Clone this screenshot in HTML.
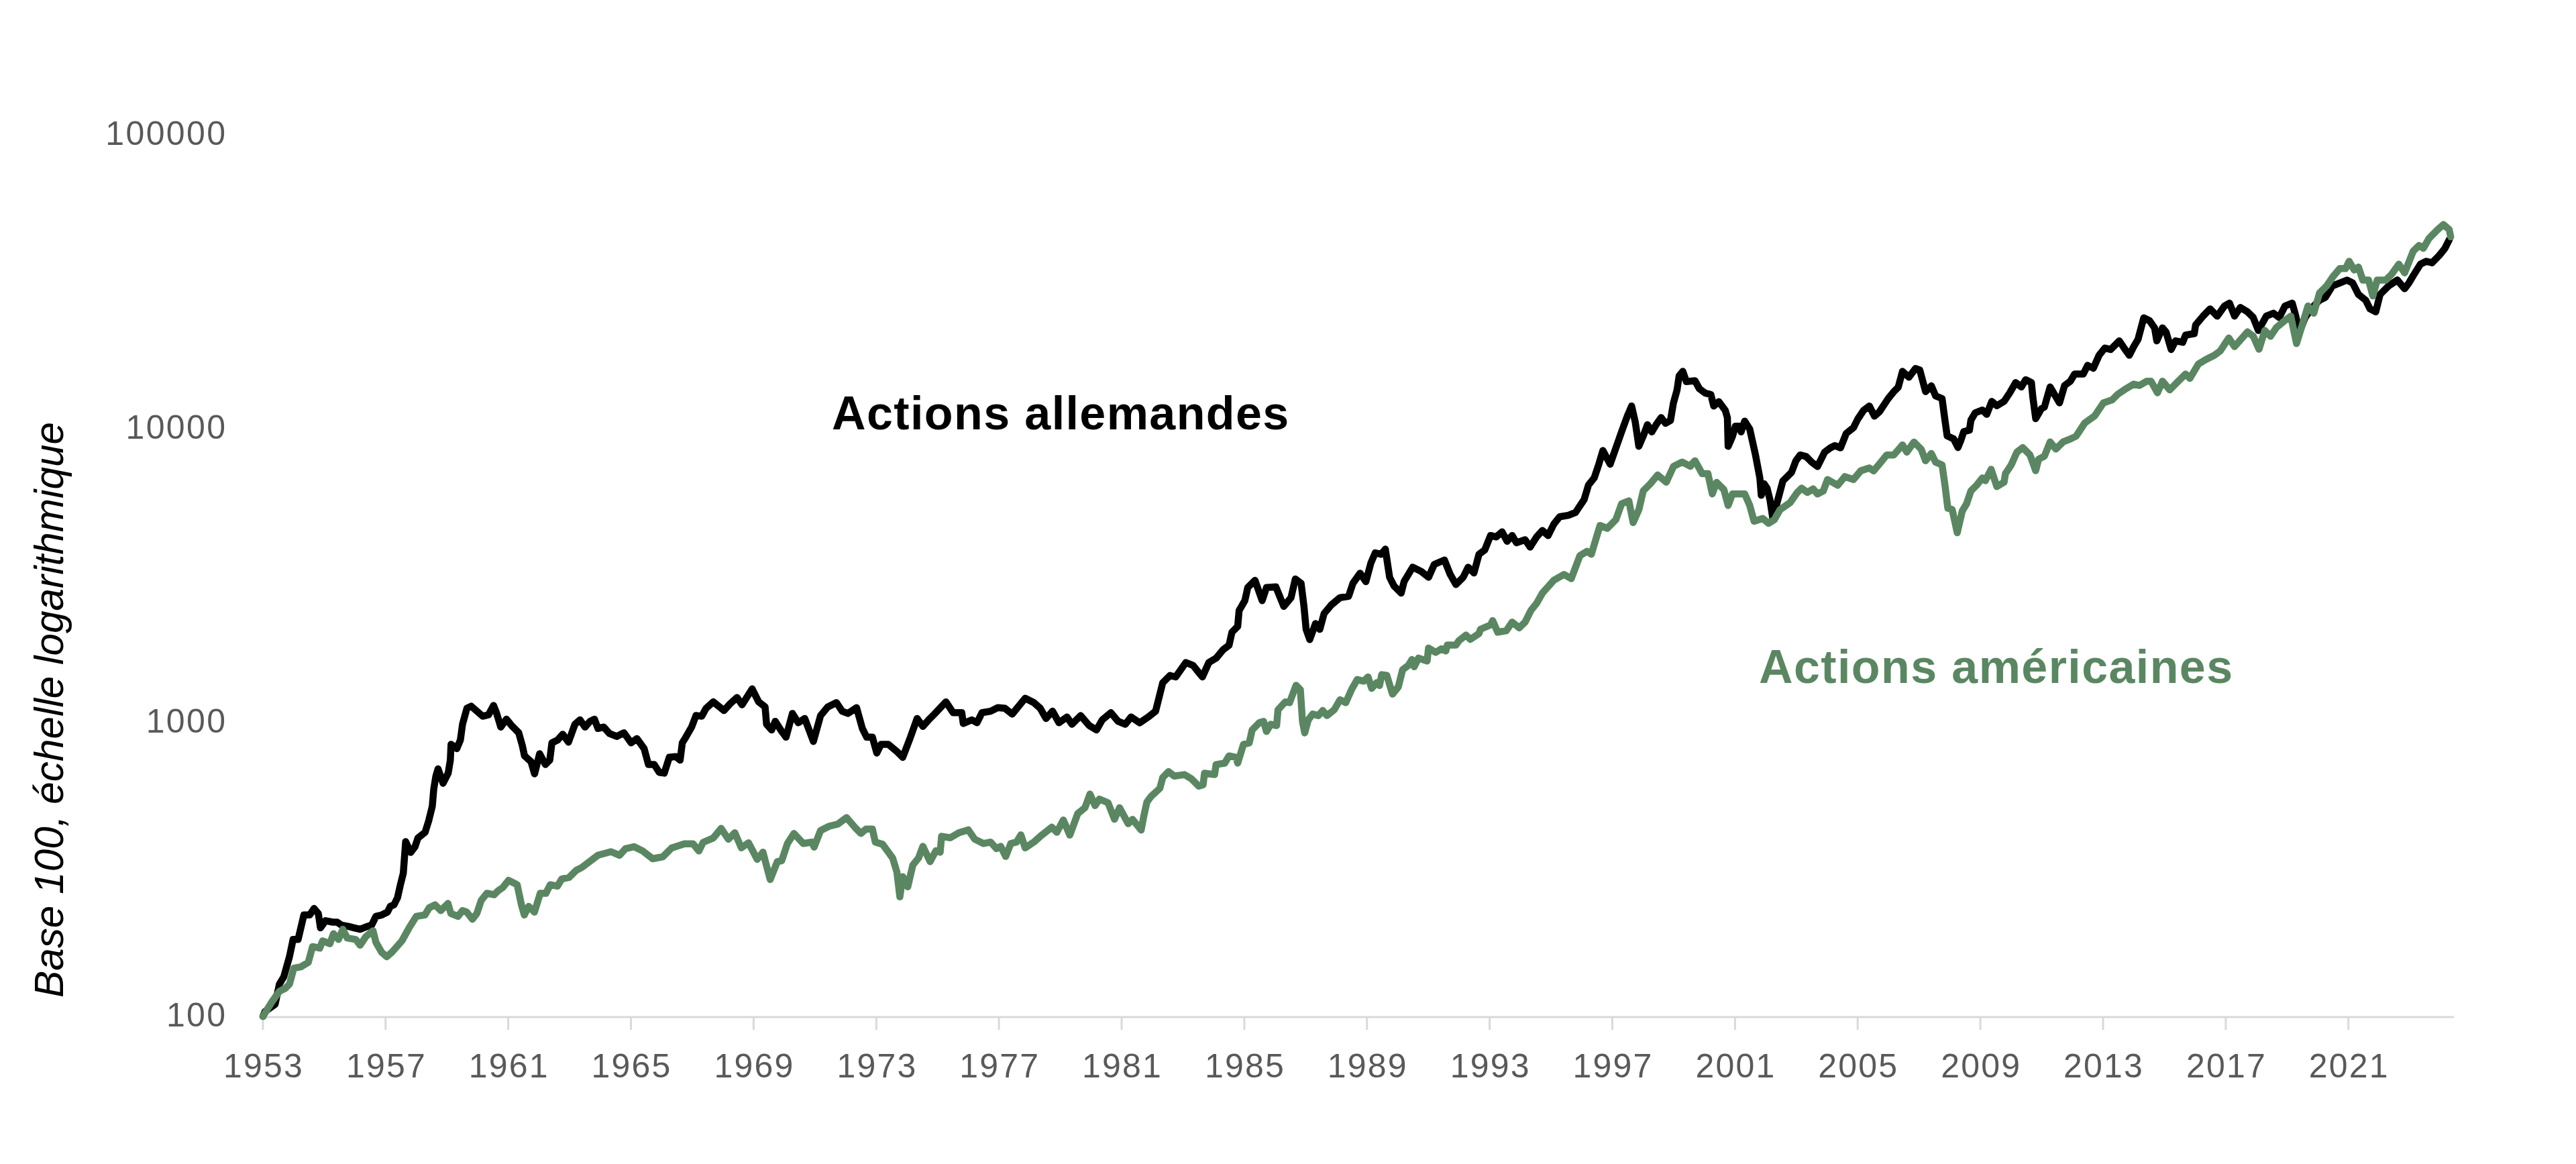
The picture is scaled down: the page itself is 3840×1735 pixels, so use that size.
<!DOCTYPE html>
<html><head><meta charset="utf-8"><style>
html,body{margin:0;padding:0;background:#fff;}
body{width:3840px;height:1735px;position:relative;overflow:hidden;font-family:"Liberation Sans",sans-serif;}
svg{position:absolute;left:0;top:0;}
.yt{position:absolute;right:3501.5px;color:#595959;font-size:50px;line-height:50px;white-space:nowrap;letter-spacing:2.4px;}
.yl{position:absolute;top:1564px;width:240px;text-align:center;color:#595959;font-size:50px;line-height:50px;letter-spacing:2.2px;text-indent:2.2px;}
.lab{position:absolute;font-weight:bold;font-size:70px;line-height:70px;letter-spacing:1.4px;white-space:nowrap;}
.ax{position:absolute;left:0;top:0;width:1000px;text-align:center;transform-origin:0 0;font-style:italic;font-size:60.3px;line-height:61px;white-space:nowrap;color:#000;}
</style></head><body>
<svg width="3840" height="1735" viewBox="0 0 3840 1735">
<g stroke="#d9d9d9" stroke-width="3" fill="none">
<line x1="391" y1="1516" x2="3658" y2="1516" />
<line x1="391.9" y1="1516" x2="391.9" y2="1535" /><line x1="574.8" y1="1516" x2="574.8" y2="1535" /><line x1="757.6" y1="1516" x2="757.6" y2="1535" /><line x1="940.5" y1="1516" x2="940.5" y2="1535" /><line x1="1123.4" y1="1516" x2="1123.4" y2="1535" /><line x1="1306.3" y1="1516" x2="1306.3" y2="1535" /><line x1="1489.1" y1="1516" x2="1489.1" y2="1535" /><line x1="1672.0" y1="1516" x2="1672.0" y2="1535" /><line x1="1854.9" y1="1516" x2="1854.9" y2="1535" /><line x1="2037.7" y1="1516" x2="2037.7" y2="1535" /><line x1="2220.6" y1="1516" x2="2220.6" y2="1535" /><line x1="2403.5" y1="1516" x2="2403.5" y2="1535" /><line x1="2586.4" y1="1516" x2="2586.4" y2="1535" /><line x1="2769.2" y1="1516" x2="2769.2" y2="1535" /><line x1="2952.1" y1="1516" x2="2952.1" y2="1535" /><line x1="3135.0" y1="1516" x2="3135.0" y2="1535" /><line x1="3317.9" y1="1516" x2="3317.9" y2="1535" /><line x1="3500.7" y1="1516" x2="3500.7" y2="1535" />
</g>
<path d="M392.0,1515.0 L395.0,1507.7 L410.1,1496.9 L416.5,1466.9 L423.0,1456.1 L431.5,1426.0 L436.9,1400.3 L444.4,1400.3 L453.0,1363.8 L461.6,1363.8 L468.1,1354.1 L474.5,1361.6 L477.7,1383.1 L485.2,1372.4 L496.0,1374.5 L502.4,1374.5 L508.9,1378.8 L519.6,1380.9 L528.2,1383.1 L536.8,1385.2 L547.5,1380.9 L554.0,1378.8 L560.4,1365.9 L569.0,1363.8 L577.6,1359.5 L581.9,1350.9 L587.3,1348.7 L592.6,1338.0 L596.9,1318.7 L601.2,1301.5 L604.7,1254.4 L612.2,1270.5 L618.7,1262.0 L623.0,1249.1 L633.7,1240.5 L639.1,1223.3 L644.4,1201.8 L646.6,1176.0 L649.8,1156.7 L653.0,1146.0 L660.5,1167.5 L668.1,1152.4 L671.3,1133.1 L672.4,1109.5 L680.9,1115.9 L686.3,1103.0 L689.5,1079.4 L696.0,1055.8 L702.4,1052.6 L711.0,1060.1 L719.6,1067.6 L728.2,1065.4 L735.7,1051.5 L740.0,1062.2 L746.5,1083.7 L755.0,1071.9 L762.6,1081.5 L773.3,1092.3 L778.7,1111.6 L781.9,1126.6 L791.6,1135.2 L796.9,1153.5 L804.4,1123.4 L813.0,1139.5 L819.5,1133.1 L822.7,1107.3 L831.3,1103.0 L838.8,1094.4 L847.4,1106.2 L857.1,1079.4 L864.6,1073.0 L872.1,1083.7 L879.6,1075.1 L886.1,1071.9 L891.4,1085.8 L900.0,1083.7 L908.6,1093.4 L919.3,1097.7 L930.1,1092.3 L940.8,1107.3 L949.4,1100.9 L960.2,1115.9 L966.6,1139.5 L975.2,1139.5 L982.7,1151.3 L990.2,1152.4 L997.7,1128.8 L1007.4,1127.7 L1013.8,1133.1 L1017.1,1107.3 L1022.4,1098.7 L1031.0,1083.7 L1037.5,1066.5 L1046.1,1067.6 L1052.5,1055.8 L1063.2,1046.1 L1079.3,1059.1 L1087.9,1049.4 L1098.7,1039.7 L1106.2,1050.5 L1121.2,1026.8 L1130.9,1046.2 L1140.5,1053.7 L1142.7,1079.5 L1150.2,1088.1 L1155.6,1075.2 L1165.2,1090.2 L1171.7,1098.8 L1181.3,1063.4 L1189.9,1077.3 L1199.6,1070.9 L1212.5,1105.2 L1223.2,1066.6 L1234.0,1053.7 L1246.9,1047.3 L1255.4,1060.1 L1264.0,1063.4 L1276.9,1054.8 L1285.5,1085.9 L1292.0,1098.8 L1300.5,1098.8 L1307.0,1122.4 L1313.4,1109.5 L1324.2,1109.5 L1337.1,1120.3 L1345.7,1128.9 L1356.4,1100.9 L1367.1,1070.9 L1375.7,1082.7 L1384.3,1073.0 L1392.9,1064.4 L1410.1,1046.2 L1420.8,1062.3 L1433.7,1062.3 L1435.9,1078.4 L1448.7,1073.0 L1456.3,1077.3 L1463.8,1062.3 L1476.7,1060.1 L1487.4,1054.8 L1498.1,1055.8 L1508.9,1064.4 L1528.2,1040.8 L1541.1,1047.3 L1550.7,1055.8 L1559.3,1070.9 L1569.0,1060.1 L1578.7,1077.3 L1590.5,1068.7 L1598.0,1079.5 L1610.9,1066.6 L1623.8,1081.6 L1634.5,1088.1 L1643.1,1073.0 L1656.0,1062.3 L1666.7,1075.2 L1677.5,1079.5 L1686.0,1068.7 L1698.9,1077.3 L1711.8,1068.7 L1722.6,1060.1 L1729.0,1034.8 L1733.3,1017.6 L1744.0,1006.9 L1752.6,1009.0 L1767.7,987.5 L1778.4,991.8 L1792.4,1009.0 L1802.0,987.5 L1812.8,981.1 L1823.5,968.2 L1832.1,961.8 L1836.4,942.4 L1845.0,933.8 L1847.1,910.2 L1855.7,895.2 L1860.0,875.8 L1870.8,865.1 L1881.5,895.2 L1887.9,875.8 L1901.9,874.8 L1913.7,903.8 L1924.5,890.9 L1930.9,863.0 L1939.5,869.4 L1943.8,903.8 L1947.0,938.1 L1952.4,953.2 L1961.0,929.5 L1967.4,938.1 L1973.8,914.5 L1984.6,901.6 L1997.5,890.9 L2010.4,888.7 L2016.8,869.4 L2027.5,854.4 L2036.1,866.9 L2043.6,839.0 L2050.1,824.0 L2058.7,826.1 L2065.1,818.6 L2071.5,860.5 L2078.0,873.4 L2088.7,884.1 L2093.0,866.9 L2105.9,845.4 L2118.8,851.9 L2129.5,860.5 L2138.1,841.2 L2153.2,834.7 L2161.8,856.2 L2170.3,871.2 L2181.1,860.5 L2188.6,845.4 L2197.2,854.0 L2204.7,826.1 L2213.3,819.7 L2221.9,798.2 L2230.5,800.3 L2239.1,792.8 L2246.6,806.8 L2254.1,798.2 L2260.5,808.9 L2273.4,804.6 L2281.0,815.4 L2290.6,800.3 L2299.2,790.7 L2307.8,798.2 L2316.4,781.0 L2325.0,770.3 L2337.9,768.1 L2348.6,763.8 L2361.5,744.5 L2367.9,723.0 L2376.5,712.3 L2383.0,693.0 L2389.4,671.5 L2400.2,691.9 L2417.2,643.8 L2425.8,620.2 L2432.2,605.2 L2437.6,628.8 L2443.0,665.3 L2449.4,650.3 L2455.8,633.1 L2462.3,643.8 L2468.7,633.1 L2476.2,622.4 L2482.7,630.9 L2490.2,626.6 L2494.5,600.9 L2499.9,581.5 L2503.1,560.1 L2508.5,553.6 L2513.8,568.7 L2526.7,567.6 L2533.2,579.4 L2541.8,585.8 L2550.3,588.0 L2554.6,605.2 L2562.2,598.7 L2571.8,611.6 L2575.0,622.4 L2576.1,665.3 L2582.6,650.3 L2586.9,635.2 L2593.3,635.2 L2595.4,643.8 L2600.8,627.7 L2608.3,639.5 L2612.6,658.9 L2616.9,678.2 L2623.4,712.6 L2625.5,738.3 L2629.8,721.2 L2634.1,727.6 L2638.4,744.8 L2642.7,772.7 L2649.1,749.1 L2657.7,716.9 L2670.6,704.0 L2677.1,686.8 L2683.5,678.2 L2692.1,680.3 L2700.7,688.9 L2709.3,695.4 L2720.0,673.9 L2728.6,667.5 L2735.1,664.2 L2743.6,667.5 L2752.2,646.0 L2763.0,637.4 L2769.4,624.5 L2778.0,611.6 L2786.6,605.2 L2794.1,620.2 L2801.6,613.8 L2814.5,594.4 L2823.1,583.7 L2829.6,577.3 L2836.0,553.6 L2845.7,562.2 L2855.3,549.3 L2861.8,551.5 L2870.4,583.7 L2879.0,575.1 L2885.4,590.1 L2895.0,594.0 L2899.3,626.2 L2902.6,649.8 L2912.2,654.1 L2918.7,667.0 L2923.0,656.3 L2927.3,643.4 L2935.8,641.2 L2938.0,626.2 L2944.4,615.4 L2955.2,611.2 L2961.6,617.6 L2969.1,598.3 L2976.6,604.7 L2987.4,598.3 L2996.0,585.4 L3004.6,570.3 L3013.2,576.8 L3019.6,566.0 L3028.2,570.3 L3030.3,591.8 L3034.6,624.0 L3043.2,609.0 L3047.5,606.9 L3056.1,576.8 L3063.6,589.7 L3070.1,600.4 L3077.6,574.6 L3086.2,568.2 L3092.6,557.5 L3105.5,557.5 L3112.0,544.6 L3120.5,548.9 L3129.1,529.5 L3137.7,518.8 L3146.3,520.9 L3159.2,508.1 L3167.8,520.9 L3174.2,529.5 L3180.7,516.6 L3187.1,505.9 L3195.7,473.7 L3204.3,478.0 L3211.8,488.7 L3215.1,508.1 L3223.6,488.7 L3229.0,495.2 L3236.5,520.9 L3243.0,508.1 L3253.7,510.2 L3258.0,499.5 L3270.9,497.3 L3273.0,484.4 L3283.8,471.5 L3294.5,460.4 L3305.2,471.2 L3316.0,456.1 L3323.5,451.8 L3331.0,471.2 L3339.6,458.3 L3350.3,464.7 L3358.9,473.3 L3366.5,492.6 L3378.3,471.2 L3389.0,466.9 L3397.6,473.3 L3406.2,456.1 L3416.9,451.8 L3421.2,466.9 L3427.7,494.8 L3436.3,473.3 L3447.0,458.3 L3457.7,447.5 L3466.3,443.2 L3477.1,426.0 L3487.8,421.8 L3498.5,417.5 L3507.1,421.8 L3515.7,438.9 L3526.5,447.5 L3532.9,460.4 L3541.5,464.7 L3547.9,438.9 L3560.8,426.0 L3573.7,417.5 L3584.5,430.3 L3590.9,421.8 L3597.3,411.0 L3608.1,393.8 L3616.7,389.5 L3625.3,391.7 L3636.0,380.9 L3644.6,370.2 L3651.0,357.3" fill="none" stroke="#000" stroke-width="10.5" stroke-linejoin="round" stroke-linecap="round"/>
<path d="M392.0,1515.0 L405.8,1492.6 L416.5,1477.6 L425.1,1473.3 L431.5,1466.9 L438.0,1443.2 L448.7,1441.1 L459.5,1434.6 L465.9,1411.0 L476.6,1413.2 L480.9,1402.4 L491.7,1406.7 L497.1,1391.7 L504.6,1400.3 L511.0,1385.2 L517.5,1398.1 L530.3,1400.3 L536.8,1408.9 L545.4,1396.0 L556.1,1387.4 L560.4,1404.6 L569.0,1419.6 L576.5,1426.0 L584.0,1419.6 L599.1,1402.4 L609.8,1383.1 L620.5,1365.9 L633.4,1363.8 L639.9,1353.0 L648.5,1348.7 L657.1,1357.3 L667.8,1346.6 L672.1,1361.6 L682.8,1365.9 L689.3,1357.3 L695.7,1359.5 L704.3,1370.2 L710.8,1361.6 L717.2,1342.3 L725.8,1331.5 L736.5,1333.7 L743.0,1327.3 L749.4,1323.0 L758.0,1312.2 L770.9,1318.7 L777.3,1348.7 L781.6,1363.8 L788.1,1350.9 L796.7,1359.5 L805.3,1331.5 L813.8,1331.5 L820.3,1318.7 L831.0,1320.8 L837.5,1310.1 L848.2,1307.9 L859.0,1297.2 L867.5,1292.9 L891.4,1274.8 L910.8,1269.5 L923.6,1274.8 L932.2,1265.2 L945.1,1262.0 L958.0,1268.4 L973.0,1280.0 L988.1,1277.0 L1001.0,1264.1 L1020.3,1257.7 L1033.2,1257.7 L1041.8,1268.4 L1048.2,1255.5 L1063.2,1249.1 L1075.0,1234.8 L1085.8,1250.9 L1095.4,1241.2 L1105.1,1263.8 L1115.8,1256.2 L1128.7,1280.9 L1137.3,1270.2 L1148.1,1311.0 L1158.8,1284.2 L1165.2,1283.1 L1173.8,1257.3 L1183.5,1242.3 L1197.5,1257.3 L1210.3,1255.2 L1213.6,1262.7 L1223.2,1238.0 L1236.1,1231.5 L1249.0,1228.3 L1261.9,1218.7 L1274.8,1233.7 L1283.4,1242.3 L1290.9,1235.8 L1300.5,1235.8 L1304.8,1255.2 L1315.6,1258.4 L1330.6,1278.8 L1337.1,1300.3 L1341.4,1336.8 L1345.7,1306.7 L1353.2,1321.8 L1360.7,1289.5 L1369.3,1278.8 L1375.7,1261.6 L1386.5,1284.2 L1395.1,1268.1 L1401.5,1270.2 L1403.6,1246.6 L1416.5,1248.7 L1429.4,1241.2 L1443.4,1236.9 L1453.0,1250.9 L1465.9,1257.3 L1476.7,1255.2 L1485.3,1264.8 L1491.7,1261.6 L1499.2,1276.6 L1506.7,1257.3 L1515.3,1255.2 L1521.8,1244.4 L1528.2,1263.8 L1541.1,1255.2 L1552.9,1244.8 L1567.9,1233.0 L1575.4,1240.5 L1585.1,1222.3 L1594.8,1244.8 L1606.6,1212.6 L1617.3,1204.0 L1624.8,1183.6 L1632.4,1200.8 L1638.8,1191.2 L1651.7,1196.5 L1661.3,1221.2 L1668.9,1204.0 L1681.8,1227.7 L1688.2,1221.2 L1701.1,1237.3 L1705.4,1214.8 L1709.7,1195.4 L1716.1,1186.9 L1729.0,1175.0 L1733.3,1158.9 L1741.9,1150.3 L1750.5,1156.8 L1765.5,1154.6 L1776.3,1161.1 L1787.0,1171.8 L1793.4,1169.7 L1795.6,1152.5 L1810.6,1154.6 L1812.8,1139.6 L1825.7,1137.5 L1832.1,1126.7 L1842.8,1128.9 L1845.0,1137.5 L1853.6,1109.5 L1862.2,1107.4 L1866.5,1088.1 L1877.2,1077.3 L1883.6,1075.2 L1887.9,1090.2 L1894.4,1079.5 L1903.0,1081.6 L1905.1,1058.0 L1915.9,1046.2 L1922.3,1047.3 L1932.0,1021.5 L1938.4,1027.9 L1941.6,1075.2 L1944.9,1092.4 L1950.2,1073.0 L1956.7,1064.4 L1965.3,1066.6 L1971.7,1059.1 L1978.1,1066.6 L1988.9,1058.0 L1997.5,1043.0 L2006.1,1047.3 L2014.7,1027.9 L2023.2,1012.9 L2032.9,1015.3 L2039.3,1008.9 L2044.7,1026.0 L2052.2,1017.5 L2056.5,1021.8 L2059.7,1005.6 L2067.3,1006.7 L2075.8,1034.6 L2084.4,1023.9 L2090.9,998.1 L2099.5,991.7 L2104.8,983.1 L2108.1,993.8 L2114.5,980.9 L2127.4,985.2 L2129.5,965.9 L2140.3,972.4 L2148.9,967.0 L2155.3,970.2 L2157.5,961.6 L2170.3,961.6 L2174.6,955.2 L2185.4,946.6 L2191.8,953.0 L2204.7,944.4 L2206.9,938.0 L2221.9,931.5 L2225.1,925.1 L2232.6,942.3 L2245.5,940.1 L2254.1,927.3 L2264.8,935.8 L2273.4,927.3 L2282.0,910.1 L2290.6,899.3 L2299.2,884.1 L2316.4,864.8 L2331.4,856.2 L2342.2,862.6 L2355.1,828.3 L2365.8,821.8 L2372.2,826.1 L2385.1,783.2 L2395.9,787.5 L2408.7,774.6 L2417.3,750.9 L2428.1,746.6 L2434.5,778.9 L2443.1,759.5 L2449.6,731.6 L2460.3,720.9 L2471.0,708.0 L2483.9,718.7 L2494.7,695.1 L2507.5,688.7 L2520.0,695.1 L2520.3,693.2 L2526.7,686.8 L2537.5,706.1 L2546.0,706.1 L2552.5,736.2 L2558.9,719.0 L2569.7,729.7 L2576.1,753.4 L2582.6,736.2 L2593.3,736.2 L2600.8,736.2 L2608.3,753.4 L2614.8,777.0 L2627.7,772.7 L2636.3,780.0 L2644.8,774.8 L2653.4,759.8 L2668.5,749.1 L2679.2,734.0 L2685.7,727.6 L2694.2,734.0 L2702.8,728.7 L2709.3,736.2 L2717.9,731.9 L2724.3,714.7 L2739.3,723.3 L2750.1,710.4 L2763.0,714.7 L2773.7,701.8 L2786.6,697.5 L2793.0,701.8 L2803.8,688.9 L2812.4,678.2 L2823.1,678.2 L2836.0,663.2 L2842.4,673.9 L2853.2,658.9 L2863.9,669.6 L2870.4,686.8 L2879.0,676.0 L2885.4,688.9 L2895.0,693.0 L2899.3,723.1 L2903.6,757.5 L2910.1,759.6 L2917.6,794.0 L2925.1,761.8 L2931.5,751.0 L2938.0,731.7 L2946.6,723.1 L2955.2,712.4 L2959.5,716.6 L2968.1,699.5 L2976.6,725.2 L2987.4,718.8 L2989.5,705.9 L2998.1,693.0 L3006.7,673.7 L3015.3,667.3 L3026.0,678.0 L3034.6,701.6 L3038.9,684.4 L3047.5,680.1 L3056.1,658.7 L3064.7,669.4 L3075.4,658.7 L3086.2,654.4 L3094.8,650.1 L3107.7,630.5 L3122.7,619.7 L3135.6,600.4 L3148.5,596.1 L3157.1,587.5 L3169.9,578.9 L3180.7,572.5 L3189.3,574.6 L3200.0,568.2 L3206.5,568.2 L3216.1,585.4 L3223.6,568.2 L3234.4,581.1 L3245.1,570.3 L3258.0,557.5 L3264.5,563.9 L3277.3,542.4 L3288.1,536.0 L3301.0,529.5 L3309.6,523.1 L3322.4,503.8 L3331.0,516.6 L3350.3,494.8 L3358.9,501.2 L3367.5,520.5 L3376.1,492.6 L3384.7,501.2 L3393.3,488.3 L3406.2,477.6 L3414.8,471.2 L3423.4,512.0 L3432.0,484.0 L3440.5,456.1 L3449.1,466.9 L3457.7,436.8 L3468.5,426.0 L3477.1,413.2 L3487.8,400.3 L3496.4,400.3 L3501.8,389.5 L3509.3,402.4 L3515.7,398.1 L3522.2,417.5 L3530.8,417.5 L3537.2,441.1 L3543.6,417.5 L3556.5,417.5 L3565.1,408.9 L3575.9,393.8 L3584.5,406.7 L3597.3,374.5 L3605.9,365.9 L3612.4,370.2 L3621.0,355.2 L3633.8,342.3 L3642.4,334.8 L3651.0,342.3 L3653.2,353.0" fill="none" stroke="#5a8762" stroke-width="10.5" stroke-linejoin="round" stroke-linecap="round"/>
</svg>
<div class="yt" style="top:174px">100000</div>
<div class="yt" style="top:612px">10000</div>
<div class="yt" style="top:1050px">1000</div>
<div class="yt" style="top:1488px">100</div>
<div class="yl" style="left:271.9px">1953</div><div class="yl" style="left:454.8px">1957</div><div class="yl" style="left:637.6px">1961</div><div class="yl" style="left:820.5px">1965</div><div class="yl" style="left:1003.4px">1969</div><div class="yl" style="left:1186.3px">1973</div><div class="yl" style="left:1369.1px">1977</div><div class="yl" style="left:1552.0px">1981</div><div class="yl" style="left:1734.9px">1985</div><div class="yl" style="left:1917.7px">1989</div><div class="yl" style="left:2100.6px">1993</div><div class="yl" style="left:2283.5px">1997</div><div class="yl" style="left:2466.4px">2001</div><div class="yl" style="left:2649.2px">2005</div><div class="yl" style="left:2832.1px">2009</div><div class="yl" style="left:3015.0px">2013</div><div class="yl" style="left:3197.9px">2017</div><div class="yl" style="left:3380.7px">2021</div>
<div class="lab" style="left:1240px;top:581px;color:#000">Actions allemandes</div>
<div class="lab" style="left:2622px;top:959px;color:#5a8762">Actions américaines</div>
<div class="ax" style="transform:translate(43px,1558px) rotate(-90deg)">Base 100, échelle logarithmique</div>
</body></html>
